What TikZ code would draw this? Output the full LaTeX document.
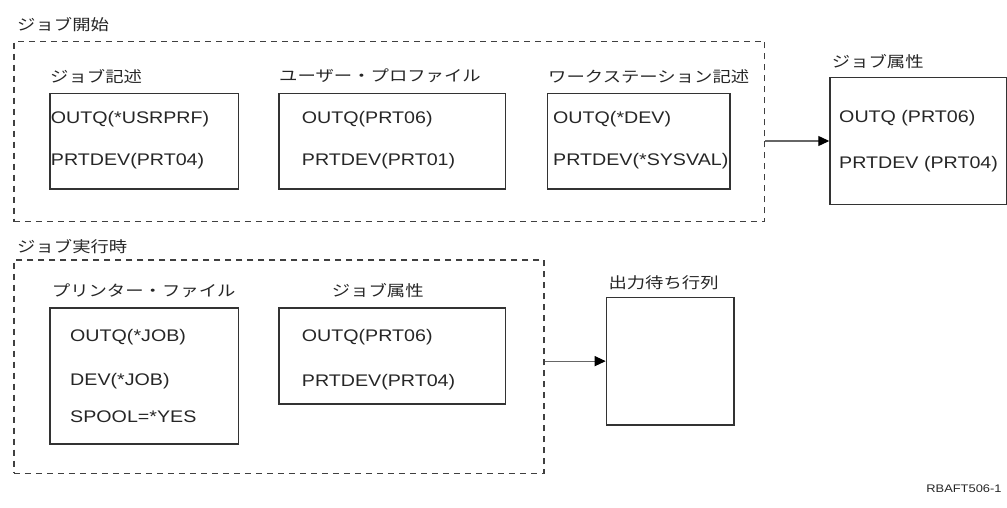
\documentclass[tikz,border=0pt]{standalone}
\usepackage{fontspec}
\setmainfont{Liberation Sans}[FakeStretch=1.17]
\newfontfamily\jpfont{Noto Sans CJK JP}[FakeStretch=1.2]
\usetikzlibrary{arrows.meta}
\begin{document}
\begin{tikzpicture}[x=1pt,y=-1pt,
  box/.style={draw=black!80,line width=1.3pt,anchor=north west,inner sep=0pt},
  dashbox/.style={draw=black!75,line width=1.2pt,dash pattern=on 6pt off 5pt,anchor=north west,inner sep=0pt},
  lbl/.style={font=\jpfont\fontsize{15.3}{18}\selectfont,anchor=west,inner sep=0pt,text=black!85},
  val/.style={font=\fontsize{16.8}{20}\selectfont,anchor=base west,inner sep=0pt,text=black!85},
  arr/.style={draw=black!60,line width=1.2pt,-{Triangle[length=11pt,width=10pt,fill=black,color=black]}}
]
\useasboundingbox (0,0) rectangle (1007,508);

% upper group
\node[lbl] (lstart) at (17,25) {ジョブ開始};
\node[dashbox,minimum width=750.7pt,minimum height=180.3pt] (start) at (13.3,40.7) {};

\node[lbl] (ljd) at (50,76) {ジョブ記述};
\node[box,minimum width=188.7pt,minimum height=95.8pt] (jd) at (49.3,92.7) {};
\node[val] (jd1) at (50.7,124) {OUTQ(*USRPRF)};
\node[val] (jd2) at (50.7,166) {PRTDEV(PRT04)};

\node[lbl] (lup) at (279,76) {ユーザー・プロファイル};
\node[box,minimum width=226.7pt,minimum height=95.8pt] (up) at (278.3,92.7) {};
\node[val] (up1) at (301.7,124) {OUTQ(PRT06)};
\node[val] (up2) at (301.7,166) {PRTDEV(PRT01)};

\node[lbl] (lws) at (548,77) {ワークステーション記述};
\node[box,minimum width=182.6pt,minimum height=95.8pt] (ws) at (546.7,92.7) {};
\node[val] (ws1) at (553,124) {OUTQ(*DEV)};
\node[val] (ws2) at (553,166) {PRTDEV(*SYSVAL)};

\node[lbl] (lja1) at (831.7,62) {ジョブ属性};
\node[box,minimum width=176.4pt,minimum height=127.3pt] (ja1) at (829.3,76.7) {};
\node[val] (ja11) at (839,123) {OUTQ (PRT06)};
\node[val] (ja12) at (839,168.5) {PRTDEV (PRT04)};

\draw[arr] (start.east |- ja1.west) -- (ja1.west);

% lower group
\node[lbl] (lrun) at (17,246.7) {ジョブ実行時};
\node[dashbox,minimum width=530pt,minimum height=213.4pt] (run) at (13.3,259.3) {};

\node[lbl] (lpf) at (51.7,290.7) {プリンター・ファイル};
\node[box,minimum width=188.7pt,minimum height=136pt] (pf) at (49.3,307.3) {};
\node[val] (pf1) at (70,341.5) {OUTQ(*JOB)};
\node[val] (pf2) at (70,385) {DEV(*JOB)};
\node[val] (pf3) at (70,422.7) {SPOOL=*YES};

\node[lbl] (lja2) at (331.7,290.7) {ジョブ属性};
\node[box,minimum width=226.7pt,minimum height=96pt] (ja2) at (278.3,307.3) {};
\node[val] (ja21) at (301.7,341.5) {OUTQ(PRT06)};
\node[val] (ja22) at (301.7,386) {PRTDEV(PRT04)};

\node[lbl] (loq) at (608.3,282.7) {出力待ち行列};
\node[box,minimum width=127.6pt,minimum height=127.6pt] (oq) at (605.7,296.7) {};

\draw[arr] (run.east |- oq.west) -- (oq.west);

\node[font=\fontsize{11}{13}\selectfont,anchor=base east,inner sep=0pt,text=black!85] (ref) at (1001.7,492.5) {RBAFT506-1};
\end{tikzpicture}
\end{document}
